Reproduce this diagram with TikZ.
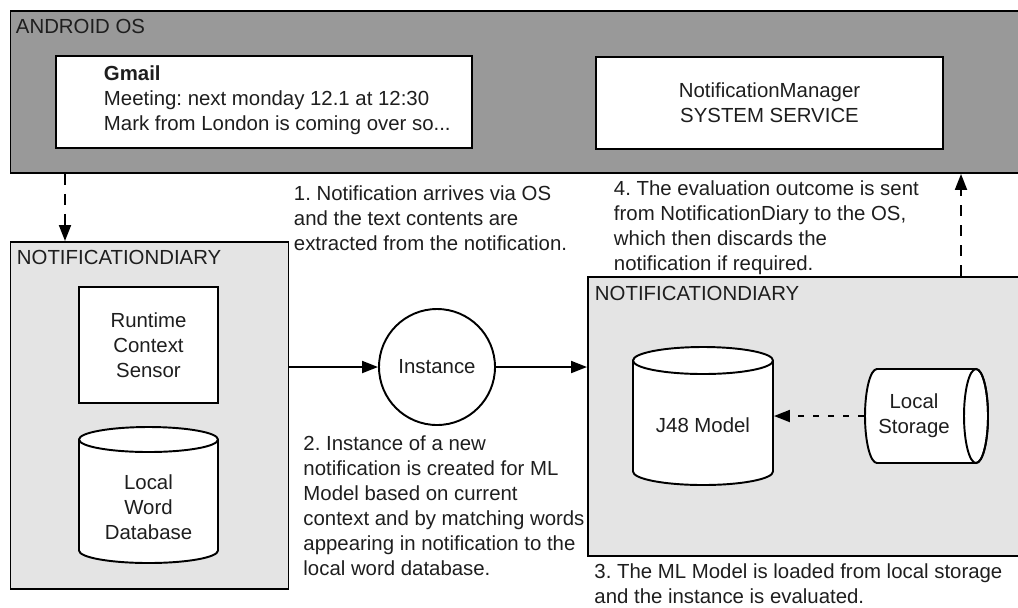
\documentclass[tikz,border=0pt]{standalone}
\usepackage{fontspec}
\setmainfont{Liberation Sans}
\usetikzlibrary{arrows.meta, positioning, calc}
\usepackage{xcolor}
\definecolor{osgray}{RGB}{153,153,153}
\definecolor{diarygray}{RGB}{228,228,228}
\definecolor{inkblack}{RGB}{30,30,30}
\frenchspacing

\begin{document}
\begin{tikzpicture}[font=\fontsize{11.6}{14.2}\selectfont, text=inkblack, line width=1.1pt,
  >={Triangle[length=0.32cm, width=0.24cm]},
  panel/.style={draw, fill=#1, anchor=north west, inner sep=0pt},
  card/.style={draw, fill=white, inner sep=0pt, align=center},
  tag/.style={anchor=north west, inner sep=0pt},
  note/.style={anchor=north west, inner sep=0pt, align=left},
  dashflow/.style={->, dash pattern=on 0.22cm off 0.18cm},
  dotflow/.style={->, dash pattern=on 0.12cm off 0.18cm}]

  % ---- Frame ----
  \useasboundingbox (0,0) rectangle (20.36,-12.14);
  \clip (0,0) rectangle (20.36,-12.14);

  % ---- Drum macros (left, top, right, bottom, end radius) ----
  \def\vdrum#1#2#3#4#5{
    \draw[fill=white] ({#1},{#2-#5}) -- ({#1},{#4+#5})
      arc[start angle=180, end angle=360, x radius={(#3-#1)/2}, y radius=#5]
      -- ({#3},{#2-#5})
      arc[start angle=0, end angle=180, x radius={(#3-#1)/2}, y radius=#5] -- cycle;
    \draw ({#1},{#2-#5}) arc[start angle=180, end angle=360, x radius={(#3-#1)/2}, y radius=#5];
  }
  \def\hdrum#1#2#3#4#5{
    \draw[fill=white] ({#1+#5},{#2}) -- ({#3-#5},{#2})
      arc[start angle=90, end angle=-90, x radius=#5, y radius={(#2-(#4))/2}]
      -- ({#1+#5},{#4})
      arc[start angle=270, end angle=90, x radius=#5, y radius={(#2-(#4))/2}] -- cycle;
    \draw ({#3-#5},{(#2+#4)/2}) ellipse[x radius=#5, y radius={(#2-(#4))/2}];
  }

  % ---- Android OS layer ----
  \node[panel=osgray, minimum width=20.4cm, minimum height=3.24cm] (os) at (0.19,-0.2) {};
  \node[tag] (oslabel) at (0.3,-0.37) {ANDROID OS};
  \node[card, minimum width=8.32cm, minimum height=1.84cm] (gmail) at (5.28,-2.04) {};
  \node[note] (gmailtext) at (2.06,-1.30)
    {\textbf{Gmail}\\Meeting: next monday 12.1 at 12:30\\Mark from London is coming over so...};
  \node[card, minimum width=6.94cm, minimum height=1.84cm] (manager) at (15.39,-2.06)
    {NotificationManager\\SYSTEM SERVICE};

  % ---- NotificationDiary: context side ----
  \node[panel=diarygray, minimum width=5.56cm, minimum height=6.94cm] (diaryL) at (0.19,-4.82) {};
  \node[tag] (diaryLlabel) at (0.32,-4.98) {NOTIFICATIONDIARY};
  \node[card, minimum width=2.78cm, minimum height=2.32cm] (sensor) at (2.97,-6.9)
    {Runtime\\Context\\Sensor};
  \vdrum{1.58}{-8.54}{4.36}{-11.26}{0.25}
  \node[align=center, inner sep=0pt] (worddb) at (2.97,-10.14) {Local\\Word\\Database};

  % ---- NotificationDiary: model side ----
  \node[panel=diarygray, minimum width=8.8cm, minimum height=5.58cm] (diaryR) at (11.74,-5.52) {};
  \node[tag] (diaryRlabel) at (11.88,-5.70) {NOTIFICATIONDIARY};
  \vdrum{12.66}{-6.94}{15.46}{-9.70}{0.27}
  \node[minimum width=2.8cm, inner sep=0pt] (j48) at (14.06,-8.5) {J48 Model};
  \hdrum{17.30}{-7.38}{19.76}{-9.26}{0.24}
  \node[minimum width=1.96cm, inner sep=0pt, align=center] (store) at (18.28,-8.32) {Local\\Storage};

  % ---- Instance and flows ----
  \node[draw, circle, fill=white, minimum size=2.32cm, inner sep=0pt] (instance) at (8.74,-7.34) {Instance};
  \draw[->] (instance.west -| diaryL.east) -- (instance.west);
  \draw[->] (instance.east) -- (instance.east -| diaryR.west);
  \draw[dotflow] (store.west) -- (store.west -| j48.east);

  \coordinate (osdrop) at ([xshift=1.11cm]os.south west);
  \draw[dashflow] (osdrop) -- (osdrop |- diaryL.north);
  \coordinate (diaryrise) at ([xshift=7.48cm]diaryR.north west);
  \draw[dashflow] (diaryrise) -- (diaryrise |- os.south);

  % ---- Step notes ----
  \node[note] (stepone) at (5.86,-3.70)
    {1. Notification arrives via OS\\and the text contents are\\extracted from the notification.};
  \node[note] (steptwo) at (6.05,-8.70)
    {2. Instance of a new\\notification is created for ML\\Model based on current\\context and by matching words\\appearing in notification to the\\local word database.};
  \node[note] (stepthree) at (11.87,-11.25)
    {3. The ML Model is loaded from local storage\\and the instance is evaluated.};
  \node[note] (stepfour) at (12.26,-3.60)
    {4. The evaluation outcome is sent\\from NotificationDiary to the OS,\\which then discards the\\notification if required.};

\end{tikzpicture}
\end{document}
